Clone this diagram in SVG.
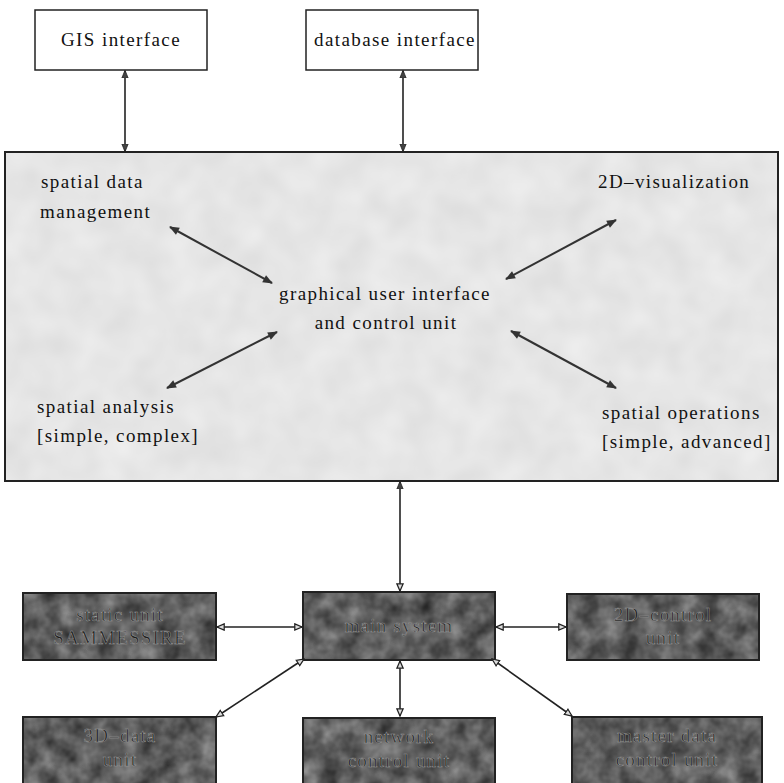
<svg xmlns="http://www.w3.org/2000/svg" width="784" height="783" viewBox="0 0 784 783">
<style>
.lbl{font-family:"Liberation Serif","Times New Roman",serif;font-size:19px;letter-spacing:1.4px;fill:#111}
.dk{font-family:"Liberation Serif","Times New Roman",serif;font-size:19px;letter-spacing:1.2px;fill:#1e1e1e;stroke:#9a9a9a;stroke-width:0.5}
.wbox{fill:#fff;stroke:#222;stroke-width:1.5}
.dframe{fill:none;stroke:#222;stroke-width:2}
.con{stroke:#222;stroke-width:1.6;fill:none}
.con2{stroke:#333;stroke-width:2;fill:none}
</style>
<defs>
<filter id="mottleDark" x="0" y="0" width="100%" height="100%" color-interpolation-filters="sRGB">
<feTurbulence type="fractalNoise" baseFrequency="0.05" numOctaves="3" seed="4" result="n"/>
<feColorMatrix in="n" type="matrix" values="0.5 0 0 0 0.12  0.5 0 0 0 0.12  0.5 0 0 0 0.12  0 0 0 0 1" result="g"/>
<feComposite in="g" in2="SourceGraphic" operator="in"/>
</filter>
<filter id="mottleLight" x="0" y="0" width="100%" height="100%" color-interpolation-filters="sRGB">
<feTurbulence type="fractalNoise" baseFrequency="0.03" numOctaves="2" seed="7" result="n"/>
<feColorMatrix in="n" type="matrix" values="0.08 0 0 0 0.86  0.08 0 0 0 0.86  0.08 0 0 0 0.86  0 0 0 0 1" result="g"/>
<feComposite in="g" in2="SourceGraphic" operator="in"/>
</filter>
<marker id="ah" viewBox="0 0 10 10" refX="9" refY="5" markerWidth="8" markerHeight="8" markerUnits="userSpaceOnUse" orient="auto-start-reverse">
<path d="M0,1 L10,5 L0,9 z" fill="#444" stroke="#222" stroke-width="1"/>
</marker>
<marker id="ahBig" viewBox="0 0 10 10" refX="9" refY="5" markerWidth="12" markerHeight="10" markerUnits="userSpaceOnUse" orient="auto-start-reverse">
<path d="M0,1 L10,5 L0,9 z" fill="#333"/>
</marker>
<marker id="ahOpen" viewBox="0 0 10 10" refX="9" refY="5" markerWidth="9" markerHeight="9" markerUnits="userSpaceOnUse" orient="auto-start-reverse">
<path d="M1,1.5 L9,5 L1,8.5 z" fill="#ddd" stroke="#222" stroke-width="1.4"/>
</marker>
</defs>

<rect width="784" height="783" fill="#fff"/>

<g id="gis-interface">
<rect class="wbox" x="35" y="10" width="172" height="60"/>
<text class="lbl" x="121" y="46" text-anchor="middle">GIS interface</text>
</g>

<g id="database-interface">
<rect class="wbox" x="306" y="10" width="172" height="60"/>
<text class="lbl" x="395" y="46" text-anchor="middle">database interface</text>
</g>

<g id="gui-control-unit">
<rect x="5" y="152" width="773" height="329" fill="#e6e6e6" filter="url(#mottleLight)"/>
<rect x="5" y="152" width="773" height="329" fill="none" stroke="#222" stroke-width="2"/>
<text class="lbl" x="41" y="188">spatial data</text>
<text class="lbl" x="40" y="218">management</text>
<text class="lbl" x="598" y="188">2D–visualization</text>
<text class="lbl" x="385" y="300" text-anchor="middle">graphical user interface</text>
<text class="lbl" x="386" y="329" text-anchor="middle">and control unit</text>
<text class="lbl" x="37" y="413">spatial analysis</text>
<text class="lbl" x="37" y="442">[simple, complex]</text>
<text class="lbl" x="602" y="419">spatial operations</text>
<text class="lbl" x="602" y="448">[simple, advanced]</text>
</g>

<g id="static-unit">
<rect x="23" y="593" width="193" height="67" fill="#555" filter="url(#mottleDark)"/>
<rect class="dframe" x="23" y="593" width="193" height="67"/>
<text class="dk" x="120" y="621" text-anchor="middle">static unit</text>
<text class="dk" x="120" y="644" text-anchor="middle">SAMMESSIRE</text>
</g>

<g id="main-system">
<rect x="303" y="592" width="192" height="68" fill="#555" filter="url(#mottleDark)"/>
<rect class="dframe" x="303" y="592" width="192" height="68"/>
<text class="dk" x="399" y="632" text-anchor="middle">main system</text>
</g>

<g id="control-unit-2d">
<rect x="567" y="594" width="192" height="66" fill="#555" filter="url(#mottleDark)"/>
<rect class="dframe" x="567" y="594" width="192" height="66"/>
<text class="dk" x="663" y="621" text-anchor="middle">2D–control</text>
<text class="dk" x="663" y="644" text-anchor="middle">unit</text>
</g>

<g id="unit-3d">
<rect x="23" y="717" width="193" height="70" fill="#555" filter="url(#mottleDark)"/>
<rect class="dframe" x="23" y="717" width="193" height="70"/>
<text class="dk" x="120" y="742" text-anchor="middle">3D–data</text>
<text class="dk" x="120" y="766" text-anchor="middle">unit</text>
</g>

<g id="network-unit">
<rect x="303" y="718" width="192" height="69" fill="#555" filter="url(#mottleDark)"/>
<rect class="dframe" x="303" y="718" width="192" height="69"/>
<text class="dk" x="399" y="743" text-anchor="middle">network</text>
<text class="dk" x="399" y="767" text-anchor="middle">control unit</text>
</g>

<g id="master-data-unit">
<rect x="572" y="717" width="190" height="70" fill="#555" filter="url(#mottleDark)"/>
<rect class="dframe" x="572" y="717" width="190" height="70"/>
<text class="dk" x="667" y="742" text-anchor="middle">master data</text>
<text class="dk" x="667" y="766" text-anchor="middle">control unit</text>
</g>

<g id="connectors">
<line class="con" x1="125" y1="71" x2="125" y2="151" marker-start="url(#ah)" marker-end="url(#ah)"/>
<line class="con" x1="403" y1="71" x2="403" y2="151" marker-start="url(#ah)" marker-end="url(#ah)"/>
<line class="con2" x1="170" y1="227" x2="272" y2="283" marker-start="url(#ahBig)" marker-end="url(#ahBig)"/>
<line class="con2" x1="616" y1="220" x2="506" y2="279" marker-start="url(#ahBig)" marker-end="url(#ahBig)"/>
<line class="con2" x1="277" y1="332" x2="167" y2="388" marker-start="url(#ahBig)" marker-end="url(#ahBig)"/>
<line class="con2" x1="511" y1="331" x2="616" y2="388" marker-start="url(#ahBig)" marker-end="url(#ahBig)"/>
<line class="con" x1="400" y1="482" x2="400" y2="591" marker-start="url(#ah)" marker-end="url(#ahOpen)"/>
<line class="con" x1="217" y1="627" x2="302" y2="627" marker-start="url(#ahOpen)" marker-end="url(#ahOpen)"/>
<line class="con" x1="496" y1="627" x2="566" y2="627" marker-start="url(#ahOpen)" marker-end="url(#ahOpen)"/>
<line class="con" x1="400" y1="661" x2="400" y2="716" marker-start="url(#ahOpen)" marker-end="url(#ahOpen)"/>
<line class="con" x1="304" y1="659" x2="216" y2="717" marker-start="url(#ahOpen)" marker-end="url(#ahOpen)"/>
<line class="con" x1="492" y1="659" x2="572" y2="716" marker-start="url(#ahOpen)" marker-end="url(#ahOpen)"/>
</g>
</svg>
